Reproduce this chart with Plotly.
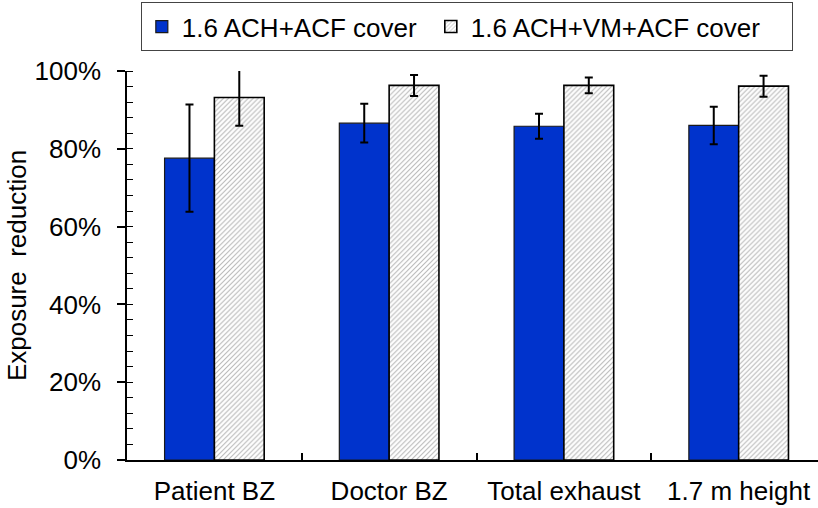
import plotly.graph_objects as go

categories = ["Patient BZ", "Doctor BZ", "Total exhaust", "1.7 m height"]
series_names = ["1.6 ACH+ACF cover", "1.6 ACH+VM+ACF cover"]
acf_values = [77.6, 86.6, 85.8, 86.0]
acf_errors = [13.8, 5.0, 3.2, 4.8]
vm_values = [93.2, 96.3, 96.3, 96.1]
vm_errors = [7.3, 2.7, 2.0, 2.7]
y_ticks = [0, 20, 40, 60, 80, 100]
y_tick_labels = ["0%", "20%", "40%", "60%", "80%", "100%"]

FONT = "Liberation Sans, Arial, sans-serif"
FS = 26

fig = go.Figure()
fig.add_trace(go.Bar(
    x=categories, y=acf_values, name=series_names[0],
    marker=dict(color="#0033cc", line=dict(color="#1a1a1a", width=1.2)),
    error_y=dict(type="data", array=acf_errors, color="black", thickness=2, width=4),
    cliponaxis=False, legendwidth=244,
))
fig.add_trace(go.Bar(
    x=categories, y=vm_values, name=series_names[1],
    marker=dict(color="white",
                pattern=dict(shape="/", fgcolor="#6e6e6e", bgcolor="white", size=3.5, solidity=0.3),
                line=dict(color="black", width=1.6)),
    error_y=dict(type="data", array=vm_errors, color="black", thickness=2, width=4),
    cliponaxis=False, legendwidth=316,
))

fig.update_layout(
    width=818, height=508,
    margin=dict(l=127, r=0, t=71, b=48, autoexpand=False),
    paper_bgcolor="white", plot_bgcolor="white",
    barmode="group", bargap=0.43, bargroupgap=0,
    font=dict(family=FONT, size=FS, color="black"),
    showlegend=True,
    legend=dict(
        orientation="h", x=0.02, xanchor="left", y=1.177, yanchor="top",
        bordercolor="#444", borderwidth=1, bgcolor="white",
        font=dict(family=FONT, size=FS, color="black"),
        traceorder="normal", valign="middle",
    ),
    xaxis=dict(
        range=[-0.5, 3.454], showline=True, linecolor="black", linewidth=1.5,
        ticks="inside", tickson="boundaries", ticklen=7, tickcolor="black", tickwidth=1.5,
        showgrid=False, zeroline=False, tickfont=dict(family=FONT, size=FS, color="black"),
        ticklabelstandoff=7,
    ),
    yaxis=dict(
        range=[0, 100], showline=True, linecolor="black", linewidth=1.5,
        tickmode="array", tickvals=y_ticks, ticktext=y_tick_labels,
        ticks="outside", ticklen=8, tickcolor="black", tickwidth=1.5,
        minor=dict(dtick=4, ticks="inside", ticklen=6, tickcolor="black", tickwidth=1.2, showgrid=False),
        showgrid=False, zeroline=False, tickfont=dict(family=FONT, size=FS, color="black"),
        ticklabelstandoff=11,
        title=dict(text="Exposure\u00a0 reduction", font=dict(family=FONT, size=FS, color="black"), standoff=0),
    ),
)

fig.write_html(
    "out.html",
    config={"displayModeBar": False},
    post_script="document.body.style.margin='0';document.body.style.overflow='hidden';",
)
